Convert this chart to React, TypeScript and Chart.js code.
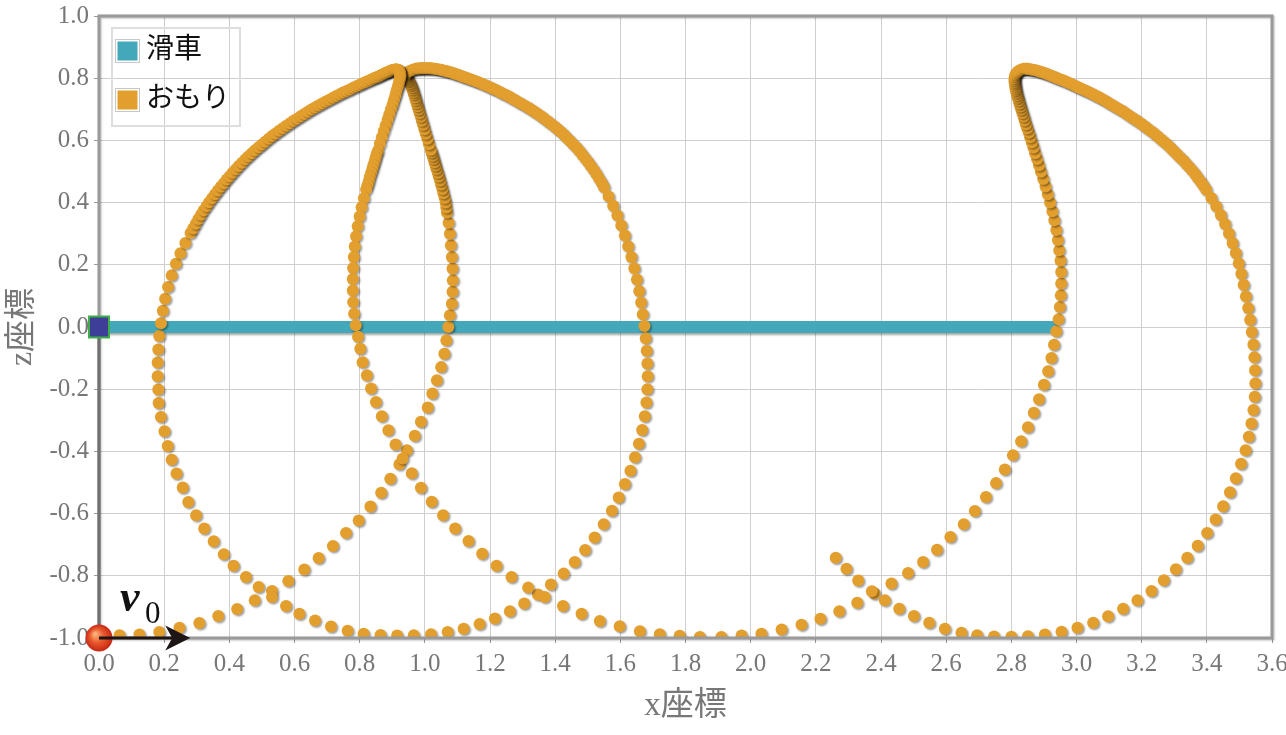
import React, { useEffect, useRef } from 'react';
import { Chart, registerables } from 'chart.js';

Chart.register(...registerables);

// ---- text ----
const seriesNames = ['滑車', 'おもり'];
const xTitle = 'x座標';
const zTitle = 'z座標';
const xTickLabels = ['0.0','0.2','0.4','0.6','0.8','1.0','1.2','1.4','1.6','1.8','2.0','2.2','2.4','2.6','2.8','3.0','3.2','3.4','3.6'];
const zTickLabels = ['-1.0','-0.8','-0.6','-0.4','-0.2','0.0','0.2','0.4','0.6','0.8','1.0'];

// ---- 滑車 (pulley) path along z = 0 ----
const pulleyPath: [number, number][] = [[0.0, 0.0], [2.94, 0.0]];

// ---- おもり (weight) trajectory, [x, z] ----
const launchRun: [number, number][] = [
  [0.000,-1.000],[0.063,-0.991],[0.124,-0.989],[0.185,-0.981],[0.247,-0.967],[0.308,-0.952],[0.366,-0.929],[0.424,-0.907],
  [0.478,-0.879],[0.531,-0.849],[0.581,-0.817],[0.630,-0.780],[0.674,-0.743],[0.718,-0.704],[0.758,-0.662],[0.797,-0.622],
  [0.833,-0.577],[0.866,-0.533],[0.894,-0.488],[0.922,-0.441],[0.945,-0.396],[0.969,-0.350],[0.988,-0.305],[1.009,-0.259],
  [1.023,-0.214],[1.037,-0.171],[1.050,-0.129],[1.060,-0.086],[1.066,-0.043],[1.072,0.000],[1.077,0.038],[1.083,0.075],
  [1.085,0.113],[1.086,0.150],[1.085,0.188],[1.083,0.225],[1.080,0.263],[1.077,0.300],
];

const middleRise: [number, number][] = [
  [1.073,0.335],[1.068,0.368],[1.066,0.384],[1.064,0.400],[1.061,0.415],[1.057,0.430],[1.054,0.444],[1.050,0.458],
  [1.047,0.471],[1.043,0.484],[1.040,0.496],[1.036,0.508],[1.033,0.519],[1.030,0.530],[1.027,0.541],[1.024,0.551],
  [1.021,0.561],[1.018,0.570],[1.013,0.588],[1.008,0.605],[1.003,0.621],[0.999,0.636],[0.995,0.650],[0.991,0.663],
  [0.988,0.676],[0.984,0.688],[0.981,0.699],[0.978,0.710],[0.975,0.720],[0.972,0.730],[0.970,0.739],[0.967,0.748],
  [0.965,0.756],[0.962,0.764],[0.960,0.771],[0.957,0.778],[0.954,0.784],[0.951,0.790],[0.948,0.795],[0.945,0.800],
  [0.942,0.804],[0.941,0.809],[0.943,0.814],[0.947,0.818],[0.952,0.822],[0.958,0.825],[0.965,0.828],
];

const middleArc: [number, number][] = [
  [0.973,0.830],[0.977,0.831],[0.982,0.831],[0.986,0.832],[0.991,0.832],[0.995,0.832],[1.000,0.832],[1.005,0.832],
  [1.010,0.832],[1.015,0.832],[1.020,0.831],[1.025,0.831],[1.031,0.830],[1.037,0.829],[1.043,0.828],[1.049,0.827],
  [1.055,0.825],[1.061,0.824],[1.068,0.822],[1.074,0.820],[1.081,0.818],[1.088,0.816],[1.095,0.813],[1.102,0.811],
  [1.110,0.808],[1.117,0.805],[1.125,0.802],[1.133,0.799],[1.141,0.796],[1.149,0.793],[1.158,0.789],[1.166,0.786],
  [1.175,0.782],[1.184,0.778],[1.193,0.774],[1.202,0.770],[1.211,0.765],[1.220,0.761],[1.230,0.756],[1.239,0.751],
  [1.249,0.746],[1.258,0.741],[1.268,0.735],[1.278,0.729],[1.288,0.723],[1.298,0.717],[1.308,0.711],[1.318,0.705],
  [1.328,0.698],[1.338,0.691],[1.348,0.684],[1.358,0.677],[1.368,0.669],[1.378,0.661],[1.388,0.653],[1.398,0.645],
  [1.408,0.636],[1.418,0.627],[1.428,0.617],[1.437,0.607],[1.447,0.597],[1.456,0.587],[1.466,0.576],[1.475,0.565],
  [1.484,0.553],[1.493,0.541],[1.502,0.529],[1.510,0.517],[1.519,0.504],[1.527,0.491],[1.535,0.477],[1.543,0.463],
  [1.550,0.449],[1.564,0.420],[1.578,0.390],[1.591,0.359],[1.603,0.327],[1.614,0.294],[1.624,0.260],[1.634,0.225],
  [1.643,0.189],[1.651,0.153],[1.658,0.116],[1.664,0.079],[1.669,0.041],[1.674,0.003],
];

const middleDescent: [number, number][] = [
  [1.678,-0.036],[1.681,-0.076],[1.683,-0.117],[1.684,-0.158],[1.683,-0.200],[1.680,-0.243],[1.675,-0.287],[1.667,-0.331],
  [1.657,-0.375],[1.645,-0.419],[1.631,-0.462],[1.614,-0.505],[1.595,-0.548],[1.574,-0.591],[1.549,-0.634],[1.521,-0.677],
  [1.492,-0.717],[1.460,-0.756],[1.426,-0.793],[1.387,-0.828],[1.347,-0.860],[1.305,-0.889],[1.261,-0.914],[1.215,-0.937],
  [1.168,-0.955],[1.119,-0.970],[1.070,-0.981],[1.019,-0.988],[0.966,-0.991],[0.915,-0.992],[0.864,-0.990],[0.812,-0.986],
  [0.763,-0.977],[0.712,-0.963],[0.663,-0.944],[0.615,-0.922],[0.574,-0.897],[0.531,-0.868],[0.490,-0.836],[0.451,-0.804],
  [0.413,-0.768],[0.383,-0.731],[0.352,-0.689],[0.323,-0.648],[0.298,-0.605],[0.274,-0.563],[0.257,-0.516],[0.238,-0.471],
  [0.223,-0.427],[0.211,-0.383],[0.201,-0.335],[0.190,-0.289],[0.183,-0.244],[0.182,-0.201],[0.180,-0.158],[0.180,-0.114],
  [0.182,-0.072],[0.185,-0.029],[0.190,0.012],
];

const leftArc: [number, number][] = [
  [0.196,0.052],[0.203,0.091],[0.212,0.129],[0.223,0.166],[0.236,0.203],[0.250,0.237],[0.265,0.270],[0.281,0.302],
  [0.289,0.317],[0.297,0.332],[0.305,0.347],[0.313,0.361],[0.321,0.375],[0.330,0.388],[0.338,0.401],[0.347,0.414],
  [0.356,0.427],[0.365,0.439],[0.374,0.451],[0.383,0.462],[0.392,0.474],[0.401,0.485],[0.410,0.496],[0.420,0.507],
  [0.429,0.518],[0.439,0.528],[0.449,0.539],[0.459,0.549],[0.469,0.559],[0.479,0.568],[0.490,0.578],[0.500,0.587],
  [0.510,0.596],[0.521,0.605],[0.531,0.614],[0.542,0.622],[0.553,0.631],[0.564,0.639],[0.575,0.647],[0.586,0.655],
  [0.597,0.663],[0.608,0.670],[0.619,0.678],[0.630,0.685],[0.641,0.692],[0.652,0.699],[0.663,0.706],[0.674,0.712],
  [0.685,0.719],[0.696,0.725],[0.707,0.731],[0.718,0.737],[0.728,0.743],[0.739,0.748],[0.749,0.754],[0.760,0.759],
  [0.770,0.764],[0.780,0.769],[0.790,0.774],[0.799,0.778],[0.808,0.783],[0.817,0.787],[0.826,0.791],[0.834,0.795],
  [0.842,0.799],[0.849,0.802],[0.856,0.805],[0.862,0.808],[0.868,0.811],[0.874,0.814],[0.879,0.817],[0.884,0.819],
  [0.889,0.821],[0.893,0.823],[0.897,0.825],[0.901,0.826],[0.905,0.827],[0.908,0.828],[0.911,0.828],[0.914,0.828],
  [0.917,0.827],[0.919,0.826],[0.921,0.824],[0.922,0.822],[0.923,0.820],[0.924,0.817],[0.925,0.814],[0.925,0.811],
  [0.925,0.808],[0.925,0.805],
];

const leftDrop: [number, number][] = [
  [0.924,0.799],[0.922,0.792],[0.920,0.784],[0.918,0.775],[0.915,0.765],[0.912,0.754],[0.909,0.742],[0.905,0.729],
  [0.901,0.715],[0.896,0.700],[0.891,0.684],[0.886,0.667],[0.880,0.649],[0.874,0.630],[0.868,0.610],[0.862,0.589],
  [0.856,0.567],[0.852,0.556],[0.849,0.544],[0.846,0.532],[0.842,0.520],[0.839,0.508],[0.835,0.495],[0.831,0.482],
  [0.828,0.469],[0.824,0.456],[0.820,0.442],[0.813,0.414],[0.806,0.385],[0.800,0.355],[0.794,0.324],[0.789,0.292],
  [0.785,0.259],[0.782,0.225],[0.780,0.190],[0.779,0.154],[0.779,0.117],[0.780,0.080],[0.783,0.043],[0.788,0.006],
];

const lowerRun: [number, number][] = [
  [0.795,-0.031],[0.802,-0.070],[0.809,-0.113],[0.822,-0.155],[0.835,-0.198],[0.850,-0.241],[0.868,-0.287],[0.888,-0.332],
  [0.910,-0.378],[0.932,-0.423],[0.960,-0.470],[0.988,-0.517],[1.021,-0.562],[1.056,-0.605],[1.093,-0.648],[1.134,-0.688],
  [1.176,-0.729],[1.220,-0.768],[1.266,-0.804],[1.317,-0.838],[1.368,-0.868],[1.424,-0.897],[1.481,-0.922],[1.537,-0.945],
  [1.598,-0.962],[1.660,-0.978],[1.721,-0.988],[1.782,-0.993],[1.844,-0.997],[1.910,-0.997],[1.972,-0.992],[2.033,-0.986],
  [2.095,-0.973],[2.156,-0.957],[2.214,-0.938],[2.272,-0.914],[2.327,-0.887],[2.380,-0.857],[2.432,-0.825],[2.483,-0.791],
  [2.529,-0.756],[2.572,-0.716],[2.613,-0.675],[2.654,-0.634],[2.688,-0.592],[2.722,-0.547],[2.753,-0.502],[2.780,-0.458],
  [2.805,-0.412],[2.830,-0.367],[2.851,-0.322],[2.869,-0.276],[2.885,-0.232],[2.900,-0.186],[2.913,-0.142],[2.923,-0.100],
  [2.931,-0.057],[2.938,-0.014],[2.945,0.025],[2.949,0.064],[2.952,0.102],[2.953,0.140],[2.953,0.177],[2.951,0.214],
  [2.947,0.247],
];

const rightRise: [number, number][] = [
  [2.943,0.280],[2.938,0.312],[2.932,0.343],[2.926,0.372],[2.919,0.400],[2.912,0.427],[2.905,0.452],[2.898,0.476],
  [2.891,0.499],[2.885,0.520],[2.879,0.540],[2.873,0.559],[2.868,0.577],[2.863,0.594],[2.858,0.610],[2.854,0.625],
  [2.849,0.639],[2.845,0.652],[2.841,0.665],[2.838,0.677],[2.834,0.688],[2.831,0.699],[2.828,0.709],[2.825,0.719],
  [2.823,0.728],[2.820,0.737],[2.818,0.745],[2.816,0.753],[2.814,0.761],[2.813,0.768],[2.812,0.775],[2.811,0.782],
  [2.810,0.788],[2.810,0.794],[2.810,0.800],[2.811,0.806],[2.813,0.812],[2.816,0.817],[2.820,0.821],[2.825,0.825],
  [2.831,0.828],
];

const rightArc: [number, number][] = [
  [2.838,0.830],[2.842,0.830],[2.846,0.830],[2.850,0.830],[2.855,0.829],[2.860,0.828],[2.865,0.827],[2.870,0.826],
  [2.876,0.825],[2.882,0.823],[2.888,0.821],[2.894,0.819],[2.900,0.817],[2.906,0.815],[2.913,0.812],[2.920,0.809],
  [2.927,0.806],[2.934,0.803],[2.941,0.800],[2.948,0.797],[2.956,0.794],[2.963,0.791],[2.971,0.787],[2.979,0.784],
  [2.987,0.780],[2.995,0.776],[3.003,0.772],[3.011,0.768],[3.020,0.764],[3.028,0.760],[3.037,0.756],[3.046,0.751],
  [3.055,0.746],[3.064,0.741],[3.073,0.736],[3.082,0.731],[3.092,0.725],[3.101,0.719],[3.111,0.713],[3.120,0.707],
  [3.130,0.701],[3.140,0.695],[3.150,0.688],[3.160,0.681],[3.170,0.674],[3.180,0.667],[3.190,0.660],[3.200,0.653],
  [3.210,0.645],[3.220,0.637],[3.230,0.629],[3.240,0.621],[3.250,0.612],[3.260,0.603],[3.270,0.594],[3.280,0.585],
  [3.290,0.575],[3.299,0.565],[3.309,0.555],[3.318,0.545],[3.328,0.535],[3.337,0.524],[3.347,0.513],[3.356,0.502],
  [3.365,0.490],[3.373,0.478],[3.382,0.466],[3.390,0.454],[3.398,0.441],[3.414,0.415],[3.429,0.388],[3.443,0.360],
  [3.456,0.331],[3.468,0.301],[3.479,0.270],[3.489,0.238],[3.498,0.205],[3.506,0.171],[3.513,0.136],[3.520,0.099],
  [3.527,0.061],[3.533,0.023],[3.538,-0.016],[3.543,-0.056],[3.546,-0.097],[3.548,-0.139],[3.549,-0.181],[3.547,-0.224],
  [3.543,-0.267],[3.537,-0.310],[3.529,-0.353],[3.519,-0.396],[3.505,-0.440],[3.489,-0.486],[3.471,-0.531],[3.450,-0.576],
  [3.427,-0.619],[3.401,-0.662],[3.372,-0.703],[3.340,-0.742],[3.305,-0.779],[3.268,-0.814],[3.230,-0.849],[3.187,-0.879],
  [3.143,-0.906],[3.097,-0.930],[3.051,-0.951],[3.003,-0.967],[2.954,-0.980],[2.903,-0.989],[2.851,-0.994],[2.800,-0.996],
  [2.747,-0.995],[2.695,-0.991],[2.647,-0.983],[2.596,-0.970],[2.548,-0.951],[2.501,-0.929],[2.456,-0.906],[2.412,-0.879],
  [2.372,-0.850],[2.330,-0.815],[2.294,-0.777],[2.261,-0.742],
];

// initial velocity arrow: from the weight's start along x to this x value
const v0ArrowTipX = 0.28;

const TEAL = '#43a8b9';
const ORANGE = '#e39f2e';
const SERIF = '"Liberation Serif", "Times New Roman", serif';
const TITLE_FONT = '"Liberation Serif", "Noto Sans CJK JP", serif';
const CJK = '"Noto Sans CJK JP", "Noto Sans", sans-serif';

const shadowPlugin = {
  id: 'dotShadow',
  beforeDatasetDraw(chart: any) {
    const c = chart.ctx;
    c.save();
    c.shadowColor = 'rgba(0,0,0,0.38)';
    c.shadowBlur = 2;
    c.shadowOffsetX = 1.5;
    c.shadowOffsetY = 1.5;
  },
  afterDatasetDraw(chart: any) {
    chart.ctx.restore();
  },
};

const decorPlugin = {
  id: 'decor',
  afterDatasetsDraw(chart: any) {
    const { ctx, chartArea: a } = chart;
    ctx.save();
    ctx.shadowColor = 'rgba(0,0,0,0.25)';
    ctx.shadowBlur = 2;
    ctx.shadowOffsetX = 1;
    ctx.shadowOffsetY = 1;
    ctx.strokeStyle = '#9a9a9a';
    ctx.lineWidth = 3;
    ctx.strokeRect(a.left, a.top, a.right - a.left, a.bottom - a.top);
    ctx.restore();
  },
  afterDraw(chart: any) {
    const { ctx, scales } = chart;
    const xs = scales.x, ys = scales.y;
    const px0 = xs.getPixelForValue(pulleyPath[0][0]);
    const pz0 = ys.getPixelForValue(pulleyPath[0][1]);
    const wx0 = xs.getPixelForValue(launchRun[0][0]);
    const wz0 = ys.getPixelForValue(launchRun[0][1]);

    // string between pulley and weight
    ctx.save();
    ctx.strokeStyle = '#707070';
    ctx.lineWidth = 3;
    ctx.beginPath();
    ctx.moveTo(px0, pz0);
    ctx.lineTo(wx0, wz0);
    ctx.stroke();

    // pulley marker
    ctx.fillStyle = '#3e3e98';
    ctx.strokeStyle = '#3fae49';
    ctx.lineWidth = 2;
    ctx.fillRect(px0 - 10, pz0 - 10.5, 20, 21);
    ctx.strokeRect(px0 - 10, pz0 - 10.5, 20, 21);

    // weight ball
    const g = ctx.createRadialGradient(wx0 - 4, wz0 - 4, 1, wx0, wz0, 14);
    g.addColorStop(0, '#f8b277');
    g.addColorStop(0.45, '#ea5a2e');
    g.addColorStop(1, '#c42412');
    ctx.fillStyle = g;
    ctx.beginPath();
    ctx.arc(wx0, wz0, 13.5, 0, Math.PI * 2);
    ctx.fill();

    // v0 arrow
    const tip = xs.getPixelForValue(v0ArrowTipX);
    ctx.strokeStyle = '#1e1515';
    ctx.fillStyle = '#1e1515';
    ctx.lineWidth = 3;
    ctx.beginPath();
    ctx.moveTo(wx0, wz0);
    ctx.lineTo(tip - 16, wz0);
    ctx.stroke();
    ctx.beginPath();
    ctx.moveTo(tip, wz0);
    ctx.lineTo(tip - 25, wz0 - 12.5);
    ctx.lineTo(tip - 18, wz0);
    ctx.lineTo(tip - 25, wz0 + 12.5);
    ctx.closePath();
    ctx.fill();

    // v0 label
    ctx.fillStyle = '#111';
    ctx.textBaseline = 'alphabetic';
    ctx.textAlign = 'left';
    ctx.font = 'italic bold 44px ' + SERIF;
    ctx.fillText('v', wx0 + 21, wz0 - 27);
    ctx.font = '31px ' + SERIF;
    ctx.fillText('0', wx0 + 46, wz0 - 15);
    ctx.restore();

    // legend
    const ds = chart.data.datasets;
    ctx.save();
    ctx.strokeStyle = '#dedede';
    ctx.lineWidth = 2;
    ctx.strokeRect(112, 28, 128, 98);
    const rows = [51, 100];
    ds.forEach((d: any, i: number) => {
      const cy = rows[i];
      ctx.fillStyle = '#ffffff';
      ctx.fillRect(115, cy - 12, 25, 24);
      ctx.strokeStyle = '#c8c8c8';
      ctx.lineWidth = 1;
      ctx.strokeRect(115.5, cy - 11.5, 24, 23);
      ctx.fillStyle = d.legendColor;
      ctx.fillRect(117.5, cy - 9.5, 20, 19);
      ctx.fillStyle = '#111';
      ctx.font = '28px ' + CJK;
      ctx.textBaseline = 'middle';
      ctx.textAlign = 'left';
      ctx.fillText(d.label, 146, cy - 4);
    });
    ctx.restore();
  },
};

export default function App() {
  const ref = useRef<HTMLCanvasElement>(null);
  useEffect(() => {
    const canvas = ref.current;
    if (!canvas) return;
    const weightPts = [
      ...launchRun, ...middleRise, ...middleArc, ...middleDescent, ...leftArc,
      ...leftDrop, ...lowerRun, ...rightRise, ...rightArc,
    ].map(([x, z]) => ({ x, y: z }));
    const pulleyPts = pulleyPath.map(([x, z]) => ({ x, y: z }));

    const chart = new Chart(canvas, {
      type: 'scatter',
      data: {
        datasets: [
          {
            label: seriesNames[0],
            data: pulleyPts,
            showLine: true,
            borderColor: TEAL,
            backgroundColor: TEAL,
            borderWidth: 12,
            borderCapStyle: 'butt',
            pointRadius: 0,
            order: 2,
            legendColor: TEAL,
          } as any,
          {
            label: seriesNames[1],
            data: weightPts,
            showLine: false,
            pointRadius: 6,
            pointBackgroundColor: ORANGE,
            backgroundColor: ORANGE,
            pointBorderWidth: 0,
            order: 1,
            legendColor: ORANGE,
          } as any,
        ],
      },
      options: {
        responsive: false,
        animation: false,
        devicePixelRatio: 1,
        events: [],
        layout: { padding: { top: 16, right: 14, left: 0, bottom: 0 } },
        plugins: { legend: { display: false }, tooltip: { enabled: false } },
        scales: {
          x: {
            type: 'linear',
            min: 0,
            max: 3.6,
            ticks: {
              stepSize: 0.2,
              autoSkip: false,
              maxRotation: 0,
              padding: 6,
              color: '#777',
              font: { family: SERIF, size: 25 },
              callback: (v: any) => xTickLabels[Math.round(Number(v) / 0.2)] ?? '',
            },
            grid: { color: '#cfcfcf', tickColor: '#9a9a9a', tickLength: 5, lineWidth: 1 },
            border: { display: false },
            title: {
              display: true,
              text: xTitle,
              color: '#777',
              font: { family: TITLE_FONT, size: 33 },
              padding: { top: 0, bottom: 9 },
            },
            afterFit: (s: any) => { s.height = 97; s.paddingLeft = 0; s.paddingRight = 0; },
          },
          y: {
            type: 'linear',
            min: -1,
            max: 1,
            ticks: {
              stepSize: 0.2,
              autoSkip: false,
              padding: 5,
              color: '#777',
              font: { family: SERIF, size: 25 },
              callback: (v: any) => zTickLabels[Math.round((Number(v) + 1) / 0.2)] ?? '',
            },
            grid: { color: '#cfcfcf', tickColor: '#9a9a9a', tickLength: 5, lineWidth: 1 },
            border: { display: false },
            title: {
              display: true,
              text: zTitle,
              color: '#777',
              font: { family: TITLE_FONT, size: 32 },
              padding: { top: 3, bottom: 0 },
            },
            afterFit: (s: any) => { s.width = 99; s.paddingTop = 0; s.paddingBottom = 0; },
          },
        },
      } as any,
      plugins: [shadowPlugin, decorPlugin],
    });
    return () => chart.destroy();
  }, []);

  return (
    <div style={{ position: 'fixed', left: 0, top: 0, width: 1286, height: 735, background: '#fff' }}>
      <canvas ref={ref} width={1286} height={735} style={{ display: 'block' }} />
    </div>
  );
}
